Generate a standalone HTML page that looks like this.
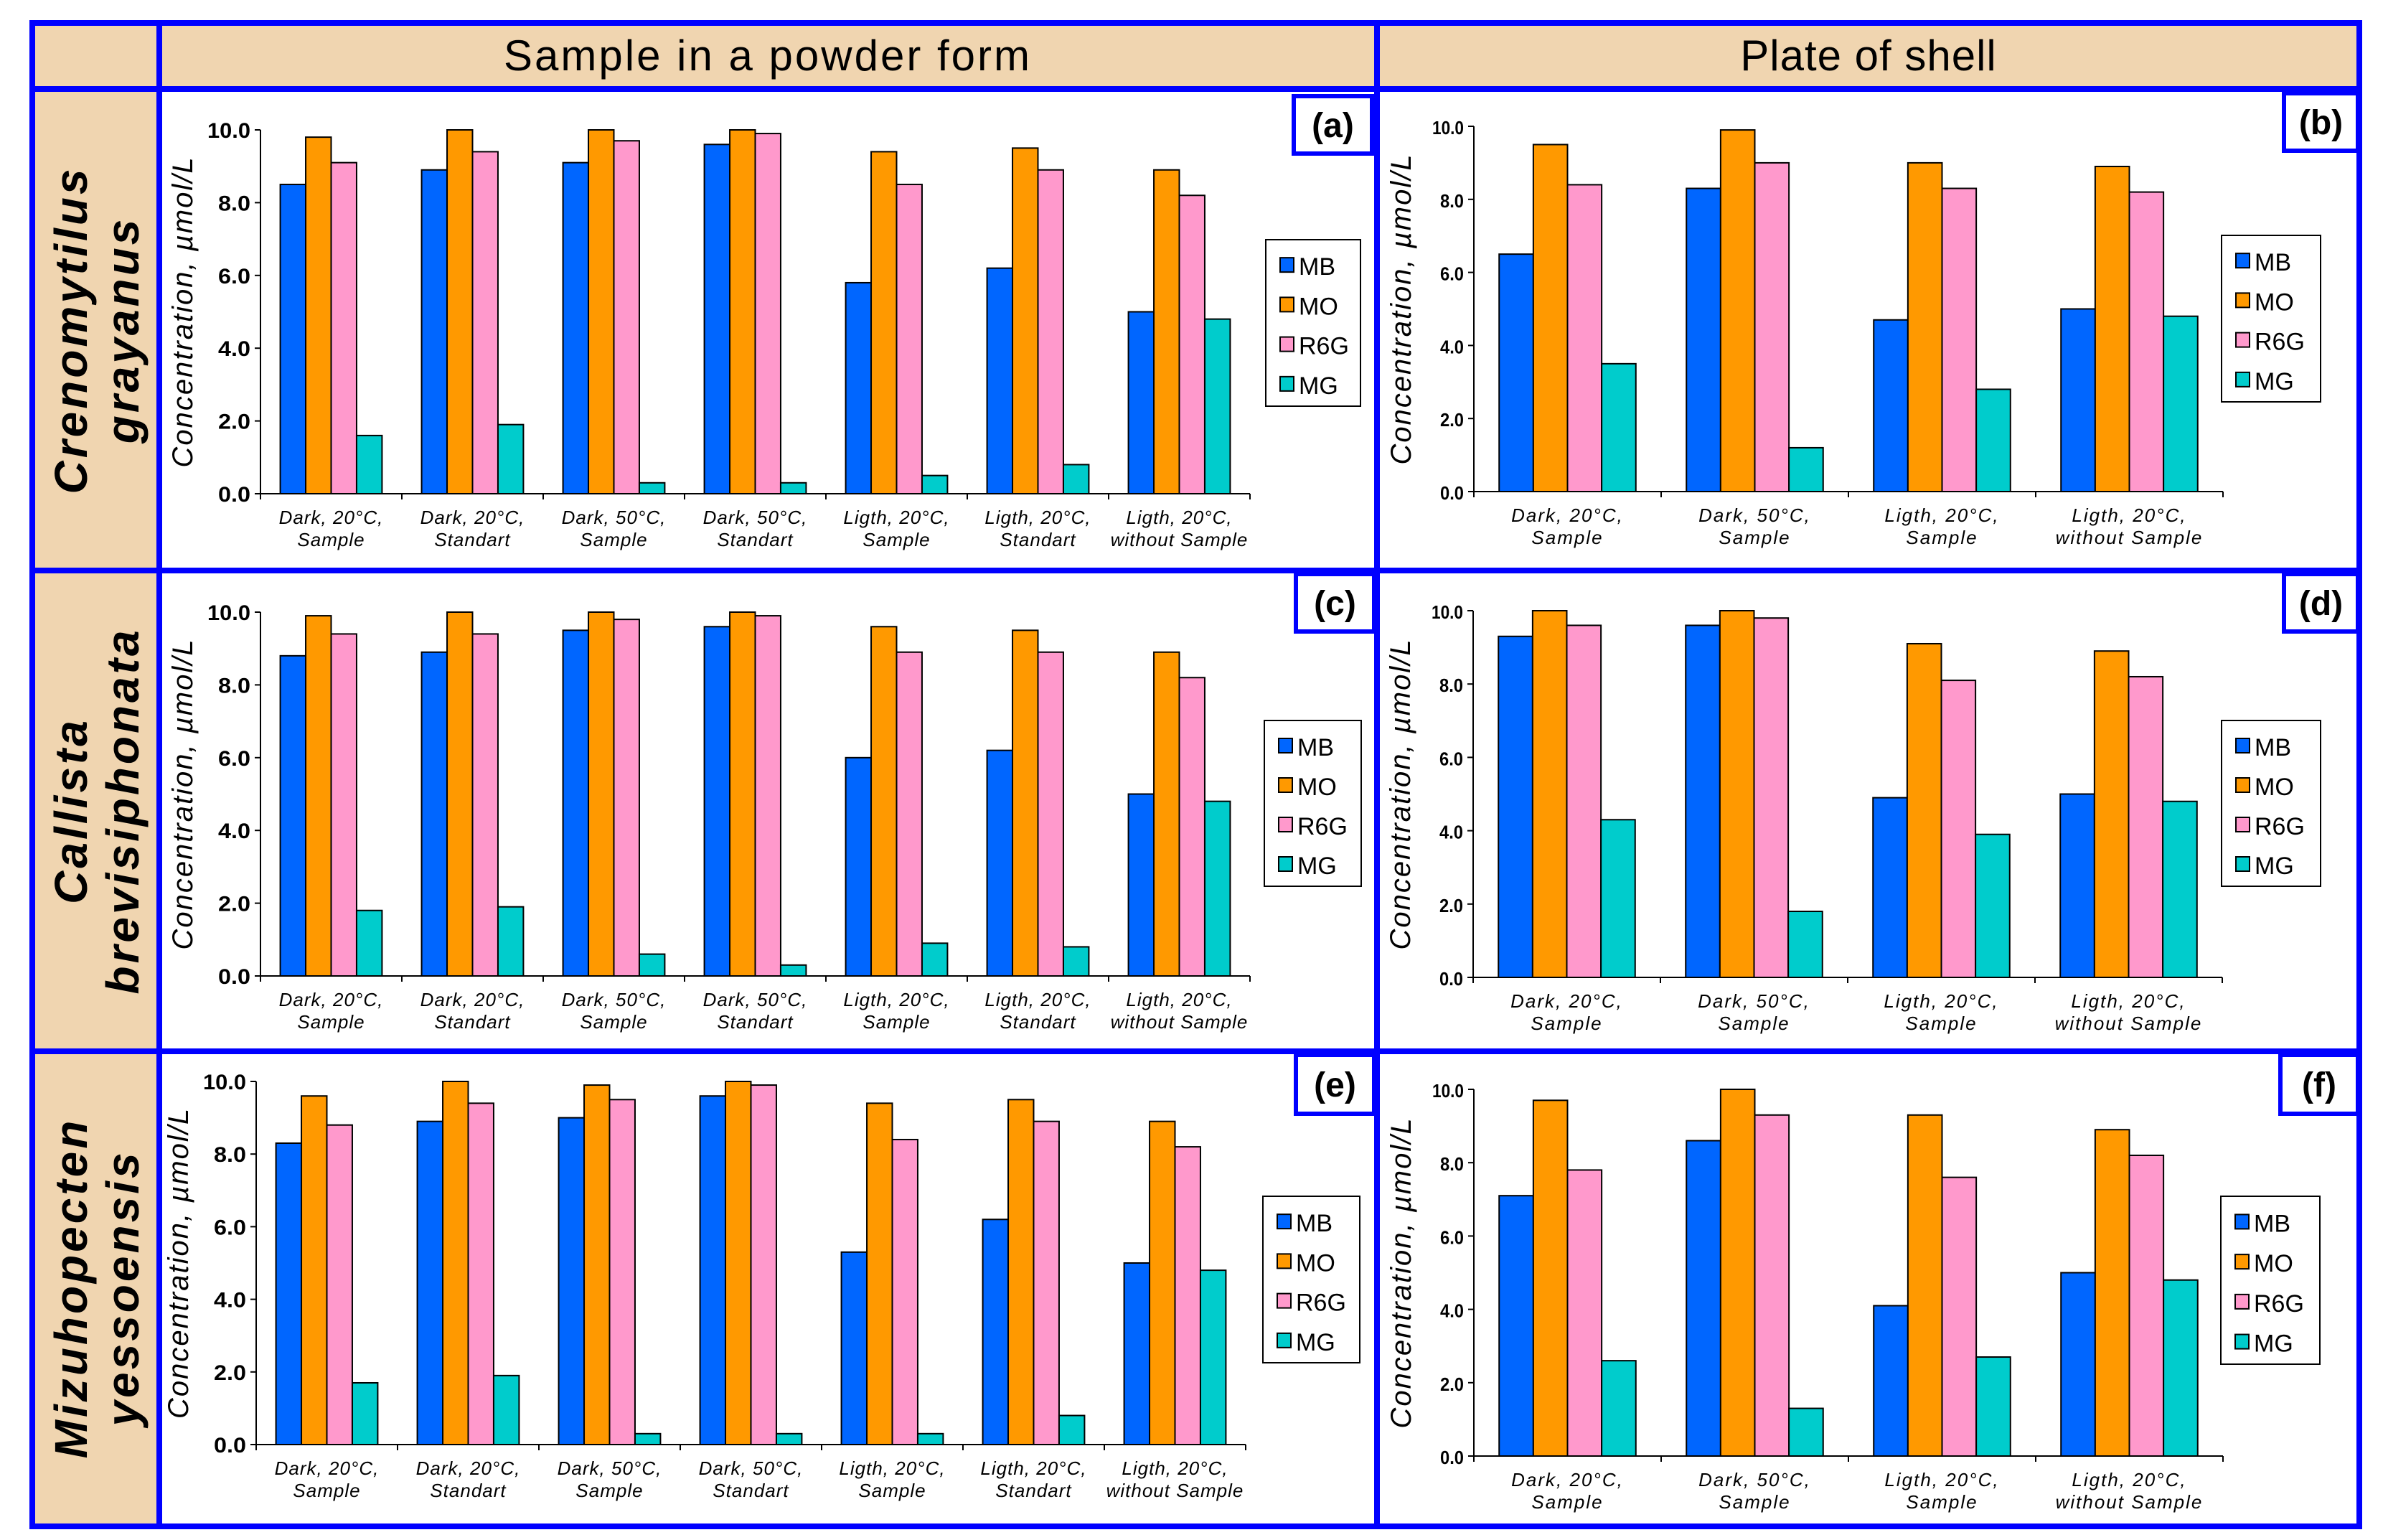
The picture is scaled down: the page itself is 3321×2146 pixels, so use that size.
<!DOCTYPE html>
<html><head><meta charset="utf-8"><style>
html,body{margin:0;padding:0;background:#fff;}
svg{display:block;font-family:"Liberation Sans",sans-serif;}
</style></head><body>
<svg id="fig" width="3321" height="2146" viewBox="0 0 3321 2146">
<g>
<rect x="45" y="32" width="3243" height="92" fill="#f0d5b0"/>
<rect x="45" y="32" width="177" height="2095" fill="#f0d5b0"/>
</g>
<g id="panels"></g>
<g stroke="#0000ff" stroke-width="8" fill="none">
<rect x="45" y="32" width="3243" height="2095"/>
<line x1="222" y1="32" x2="222" y2="2127"/>
<line x1="1919" y1="32" x2="1919" y2="2127"/>
<line x1="45" y1="124" x2="3288" y2="124"/>
<line x1="45" y1="795" x2="3288" y2="795"/>
<line x1="45" y1="1465" x2="3288" y2="1465"/>
</g>
<text x="1070" y="98" font-size="60" text-anchor="middle" letter-spacing="3">Sample in a powder form</text>
<text x="2604" y="98" font-size="60" text-anchor="middle" letter-spacing="1">Plate of shell</text>
<g font-size="64" font-style="italic" font-weight="bold" text-anchor="middle" letter-spacing="4">
<text transform="translate(133,460) rotate(-90)"><tspan x="0" y="-12">Crenomytilus</tspan><tspan x="0" y="60">grayanus</tspan></text>
<text transform="translate(133,1130) rotate(-90)"><tspan x="0" y="-12">Callista</tspan><tspan x="0" y="60">brevisiphonata</tspan></text>
<text transform="translate(133,1795) rotate(-90)"><tspan x="0" y="-12">Mizuhopecten</tspan><tspan x="0" y="60">yessoensis</tspan></text>
</g>
</svg>
<script>
const seriesNames = ["MB","MO","R6G","MG"];
const seriesColors = ["#0066ff","#ff9900","#ff99cc","#00cccc"];
const yTicks = [0,2,4,6,8,10];
const yTickLabels = ["0.0","2.0","4.0","6.0","8.0","10.0"];
const powderCats = [["Dark, 20°C,","Sample"],["Dark, 20°C,","Standart"],["Dark, 50°C,","Sample"],["Dark, 50°C,","Standart"],["Ligth, 20°C,","Sample"],["Ligth, 20°C,","Standart"],["Ligth, 20°C,","without Sample"]];
const plateCats = [["Dark, 20°C,","Sample"],["Dark, 50°C,","Sample"],["Ligth, 20°C,","Sample"],["Ligth, 20°C,","without Sample"]];
const aMB=[8.5,8.9,9.1,9.6,5.8,6.2,5.0], aMO=[9.8,10,10,10,9.4,9.5,8.9], aR6G=[9.1,9.4,9.7,9.9,8.5,8.9,8.2], aMG=[1.6,1.9,0.3,0.3,0.5,0.8,4.8];
const bMB=[6.5,8.3,4.7,5.0], bMO=[9.5,9.9,9.0,8.9], bR6G=[8.4,9.0,8.3,8.2], bMG=[3.5,1.2,2.8,4.8];
const cMB=[8.8,8.9,9.5,9.6,6.0,6.2,5.0], cMO=[9.9,10,10,10,9.6,9.5,8.9], cR6G=[9.4,9.4,9.8,9.9,8.9,8.9,8.2], cMG=[1.8,1.9,0.6,0.3,0.9,0.8,4.8];
const dMB=[9.3,9.6,4.9,5.0], dMO=[10,10,9.1,8.9], dR6G=[9.6,9.8,8.1,8.2], dMG=[4.3,1.8,3.9,4.8];
const eMB=[8.3,8.9,9.0,9.6,5.3,6.2,5.0], eMO=[9.6,10,9.9,10,9.4,9.5,8.9], eR6G=[8.8,9.4,9.5,9.9,8.4,8.9,8.2], eMG=[1.7,1.9,0.3,0.3,0.3,0.8,4.8];
const fMB=[7.1,8.6,4.1,5.0], fMO=[9.7,10,9.3,8.9], fR6G=[7.8,9.3,7.6,8.2], fMG=[2.6,1.3,2.7,4.8];

const NS="http://www.w3.org/2000/svg";
const root=document.getElementById('panels');
function mk(tag,attrs,parent){const e=document.createElementNS(NS,tag);for(const k in attrs)e.setAttribute(k,attrs[k]);(parent||root).appendChild(e);return e;}

function panel(id,label,cats,series,g){
  const grp=mk('g',{});
  
  
  const n=cats.length, step=g.w/n;
  const yS=v=>g.y0-(g.y0-g.y10)*v/10;
  const xS=i=>g.x0+i*step;
  const bw=step*g.frac/4, off=(step-bw*4)/2;
  series.forEach((arr,s)=>{arr.forEach((v,i)=>{
    const r=mk('rect',{x:xS(i)+off+s*bw,y:yS(v),width:bw,height:yS(0)-yS(v),fill:seriesColors[s],stroke:'#000','stroke-width':2},grp);
    
    
  });});
  const ya=mk('line',{x1:g.x0,y1:yS(10),x2:g.x0,y2:yS(0),stroke:'#000','stroke-width':2},grp);
  
  
  const xa=mk('line',{x1:g.x0,y1:yS(0),x2:g.x0+g.w,y2:yS(0),stroke:'#000','stroke-width':2},grp);
  
  
  yTicks.forEach((t,k)=>{
    mk('line',{x1:g.x0-8,y1:yS(t),x2:g.x0,y2:yS(t),stroke:'#000','stroke-width':2},grp);
    const lab=yTickLabels[k];
    const tx=mk('text',{x:g.x0-14,y:yS(t)+11,'font-size':g.tfs,'font-weight':'bold','text-anchor':'end',textLength:lab.length*g.tcw,lengthAdjust:'spacingAndGlyphs'},grp);
    tx.textContent=lab;
    
    
  });
  for(let i=0;i<=n;i++) mk('line',{x1:xS(i),y1:yS(0),x2:xS(i),y2:yS(0)+8,stroke:'#000','stroke-width':2},grp);
  cats.forEach((c,i)=>{
    const tx=mk('text',{x:xS(i)+step/2,y:yS(0)+42,'font-size':26,'font-style':'italic','text-anchor':'middle','letter-spacing':g.ls},grp);
    
    
    c.forEach((line,j)=>{const ts=mk('tspan',{x:xS(i)+step/2,dy:j?31:0},tx);ts.textContent=line;});
  });
  const yt=mk('text',{transform:`translate(${g.x0-g.tOff},${(yS(0)+yS(10))/2}) rotate(-90)`,'font-size':40,'font-style':'italic','text-anchor':'middle','letter-spacing':2},grp);
  yt.textContent='Concentration, µmol/L';
  
  
  const L=g.leg;
  const lg=mk('g',{},grp);
  
  
  mk('rect',{x:L[0],y:L[1],width:L[2],height:L[3],fill:'#fff',stroke:'#000','stroke-width':2},lg);
  seriesNames.forEach((nm,s)=>{
    const cy=L[1]+L[3]*(s+0.6)/4.2+4;
    const e=mk('g',{},lg);
    
    
    mk('rect',{x:L[0]+20,y:cy-12,width:19,height:20,fill:seriesColors[s],stroke:'#000','stroke-width':2},e);
    const t=mk('text',{x:L[0]+46,y:cy+12,'font-size':34},e);t.textContent=nm;
  });
  const B=g.box;
  const bx=mk('rect',{x:B[0],y:B[1],width:B[2],height:B[3],fill:'#fff',stroke:'#0000ff','stroke-width':6},grp);
  
  
  const bt=mk('text',{x:B[0]+B[2]/2,y:B[1]+B[3]/2+17,'font-size':48,'font-weight':'bold','text-anchor':'middle'},grp);
  bt.textContent=label;
  
  
}
panel('a','(a)',powderCats,[aMB,aMO,aR6G,aMG],{x0:363,w:1379,y10:181,y0:688,frac:0.72,leg:[1764,334,132,232],box:[1803,134,109,80],tfs:30,tcw:15,tOff:95,ls:1});
panel('b','(b)',plateCats,[bMB,bMO,bR6G,bMG],{x0:2054,w:1044,y10:176,y0:685,frac:0.73,leg:[3096,328,138,232],box:[3183,130,103,80],tfs:26,tcw:11,tOff:88,ls:2});
panel('c','(c)',powderCats,[cMB,cMO,cR6G,cMG],{x0:363,w:1379,y10:853,y0:1360,frac:0.72,leg:[1762,1004,135,231],box:[1806,800,109,80],tfs:30,tcw:15,tOff:95,ls:1});
panel('d','(d)',plateCats,[dMB,dMO,dR6G,dMG],{x0:2053,w:1044,y10:851,y0:1362,frac:0.73,leg:[3096,1004,138,231],box:[3183,800,103,80],tfs:26,tcw:11,tOff:88,ls:2});
panel('e','(e)',powderCats,[eMB,eMO,eR6G,eMG],{x0:357,w:1379,y10:1507,y0:2013,frac:0.72,leg:[1760,1667,135,232],box:[1806,1470,109,82],tfs:30,tcw:15,tOff:95,ls:1});
panel('f','(f)',plateCats,[fMB,fMO,fR6G,fMG],{x0:2054,w:1044,y10:1518,y0:2029,frac:0.73,leg:[3095,1667,138,234],box:[3178,1470,108,82],tfs:26,tcw:11,tOff:88,ls:2});
</script>
</body></html>
